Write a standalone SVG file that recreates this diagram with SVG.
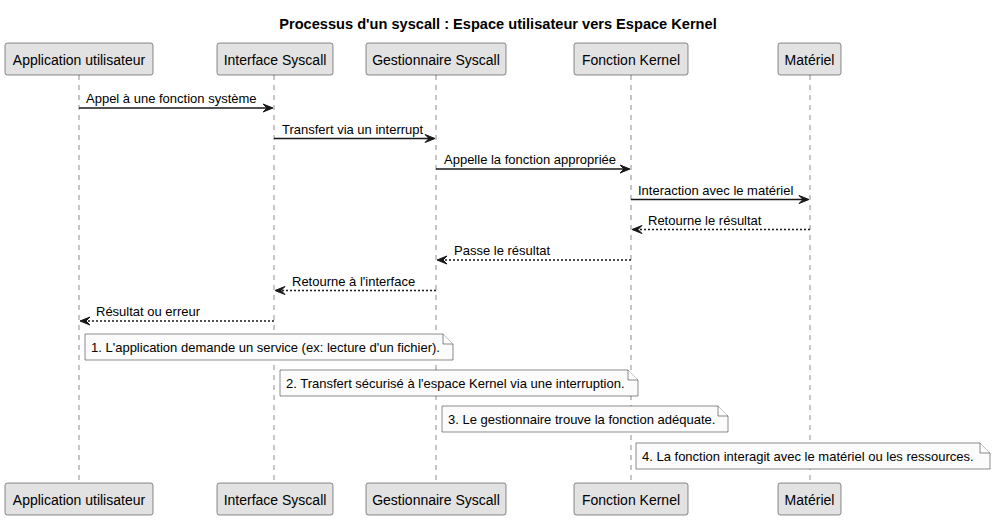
<svg xmlns="http://www.w3.org/2000/svg" width="996" height="520" viewBox="0 0 996 520">
<defs>
<style>
text{font-family:"Liberation Sans",Arial,sans-serif;fill:#000}
.title{font-size:14.6px;font-weight:bold}
.pt{font-size:14px}
.ml{font-size:13px}
.nt{font-size:13px}
.box{fill:#E2E2E2;stroke:#181818;stroke-width:0.5}
.life{stroke:#181818;stroke-width:0.5;stroke-dasharray:5,5;fill:none}
.msg{stroke:#181818;stroke-width:1.5;fill:none}
.ret{stroke:#181818;stroke-width:1.5;fill:none;stroke-dasharray:2,2}
.head{fill:#181818;stroke:#181818;stroke-width:1}
.note{fill:#FBFBFB;stroke:#181818;stroke-width:0.5}
</style>
</defs>
<rect width="996" height="520" fill="#FFFFFF"/>
<text class="title" x="498" y="29" text-anchor="middle">Processus d'un syscall : Espace utilisateur vers Espace Kernel</text>

<g id="lifelines">
<line class="life" x1="79" y1="75" x2="79" y2="483"/>
<line class="life" x1="274" y1="75" x2="274" y2="483"/>
<line class="life" x1="436" y1="75" x2="436" y2="483"/>
<line class="life" x1="631" y1="75" x2="631" y2="483"/>
<line class="life" x1="810" y1="75" x2="810" y2="483"/>
</g>

<g id="app">
<rect class="box" x="5" y="43" width="148" height="32" rx="2.5"/>
<text class="pt" x="79" y="64.5" text-anchor="middle">Application utilisateur</text>
<rect class="box" x="5" y="483" width="148" height="32" rx="2.5"/>
<text class="pt" x="79" y="504.5" text-anchor="middle">Application utilisateur</text>
</g>
<g id="iface">
<rect class="box" x="217" y="43" width="116" height="32" rx="2.5"/>
<text class="pt" x="275" y="64.5" text-anchor="middle">Interface Syscall</text>
<rect class="box" x="217" y="483" width="116" height="32" rx="2.5"/>
<text class="pt" x="275" y="504.5" text-anchor="middle">Interface Syscall</text>
</g>
<g id="handler">
<rect class="box" x="366" y="43" width="140" height="32" rx="2.5"/>
<text class="pt" x="436" y="64.5" text-anchor="middle">Gestionnaire Syscall</text>
<rect class="box" x="366" y="483" width="140" height="32" rx="2.5"/>
<text class="pt" x="436" y="504.5" text-anchor="middle">Gestionnaire Syscall</text>
</g>
<g id="kernel">
<rect class="box" x="574" y="43" width="114" height="32" rx="2.5"/>
<text class="pt" x="631" y="64.5" text-anchor="middle">Fonction Kernel</text>
<rect class="box" x="574" y="483" width="114" height="32" rx="2.5"/>
<text class="pt" x="631" y="504.5" text-anchor="middle">Fonction Kernel</text>
</g>
<g id="hw">
<rect class="box" x="778" y="43" width="63" height="32" rx="2.5"/>
<text class="pt" x="809.5" y="64.5" text-anchor="middle">Matériel</text>
<rect class="box" x="778" y="483" width="63" height="32" rx="2.5"/>
<text class="pt" x="809.5" y="504.5" text-anchor="middle">Matériel</text>
</g>

<g id="connectors">
<line class="msg" x1="79" y1="108" x2="271" y2="108"/>
<polygon class="head" points="263,104 273,108 263,112 267,108"/>
<text class="ml" x="86" y="103">Appel à une fonction système</text>

<line class="msg" x1="274" y1="138.5" x2="433" y2="138.5"/>
<polygon class="head" points="425,134.5 435,138.5 425,142.5 429,138.5"/>
<text class="ml" x="282" y="133.5">Transfert via un interrupt</text>

<line class="msg" x1="436" y1="169" x2="628" y2="169"/>
<polygon class="head" points="620,165 630,169 620,173 624,169"/>
<text class="ml" x="444" y="164">Appelle la fonction appropriée</text>

<line class="msg" x1="631" y1="199.5" x2="807" y2="199.5"/>
<polygon class="head" points="799,195.5 809,199.5 799,203.5 803,199.5"/>
<text class="ml" x="638" y="194.5">Interaction avec le matériel</text>

<line class="ret" x1="810" y1="229.5" x2="634" y2="229.5"/>
<polygon class="head" points="642,225.5 632,229.5 642,233.5 638,229.5"/>
<text class="ml" x="648" y="224.5">Retourne le résultat</text>

<line class="ret" x1="631" y1="260" x2="439" y2="260"/>
<polygon class="head" points="447,256 437,260 447,264 443,260"/>
<text class="ml" x="454" y="255">Passe le résultat</text>

<line class="ret" x1="436" y1="290.5" x2="277" y2="290.5"/>
<polygon class="head" points="285,286.5 275,290.5 285,294.5 281,290.5"/>
<text class="ml" x="292" y="285.5">Retourne à l'interface</text>

<line class="ret" x1="274" y1="321" x2="82" y2="321"/>
<polygon class="head" points="90,317 80,321 90,325 86,321"/>
<text class="ml" x="96" y="316">Résultat ou erreur</text>
</g>

<g id="note1">
<path class="note" d="M85,334 L85,360 L453,360 L453,344 L443,334 Z"/>
<path class="note" d="M443,334 L443,344 L453,344"/>
<text class="nt" x="91" y="351.5">1. L'application demande un service (ex: lecture d'un fichier).</text>
</g>
<g id="note2">
<path class="note" d="M280,370 L280,396 L638,396 L638,380 L628,370 Z"/>
<path class="note" d="M628,370 L628,380 L638,380"/>
<text class="nt" x="286" y="387.5">2. Transfert sécurisé à l'espace Kernel via une interruption.</text>
</g>
<g id="note3">
<path class="note" d="M442,406 L442,432 L728,432 L728,416 L718,406 Z"/>
<path class="note" d="M718,406 L718,416 L728,416"/>
<text class="nt" x="448" y="423.5">3. Le gestionnaire trouve la fonction adéquate.</text>
</g>
<g id="note4">
<path class="note" d="M636,443 L636,469 L990,469 L990,453 L980,443 Z"/>
<path class="note" d="M980,443 L980,453 L990,453"/>
<text class="nt" x="642" y="460.5">4. La fonction interagit avec le matériel ou les ressources.</text>
</g>
</svg>
